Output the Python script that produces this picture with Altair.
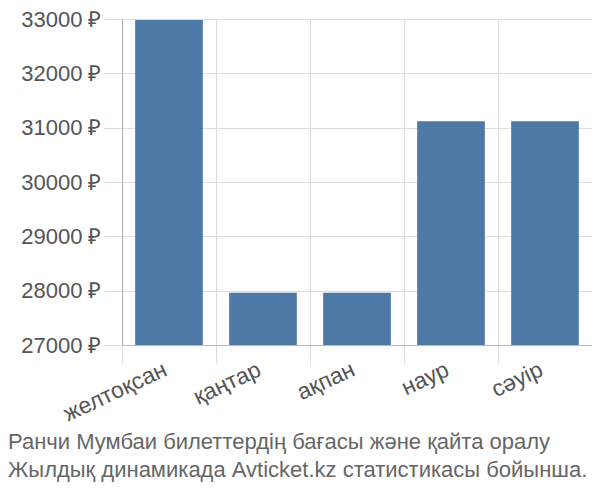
import altair as alt
import pandas as pd

months = ["желтоқсан", "қаңтар", "ақпан", "наур", "сәуір"]
prices = [32980, 27960, 27960, 31120, 31120]
y_ticks = [27000, 28000, 29000, 30000, 31000, 32000, 33000]
title_lines = [
    "Ранчи Мумбаи билеттердің бағасы және қайта оралу",
    "Жылдық динамикада Avticket.kz статистикасы бойынша.",
]

df = pd.DataFrame({"month": months, "price": prices})

chart = (
    alt.Chart(df)
    .mark_bar(color="#4e79a7", clip=True)
    .encode(
        x=alt.X(
            "month:N",
            sort=months,
            title=None,
            scale=alt.Scale(paddingInner=0.28, paddingOuter=0.14),
            axis=alt.Axis(
                labelAngle=-25,
                labelFontSize=23,
                labelColor="#555",
                labelFont="Liberation Sans",
                bandPosition=-0.19,
                labelOffset=-8,
                grid=True,
                gridColor="#ddd",
                tickSize=18,
                tickColor="#ddd",
                domainColor="#bbb",
                labelPadding=-5,
            ),
        ),
        y=alt.Y(
            "price:Q",
            title=None,
            scale=alt.Scale(domain=[27000, 33000], nice=False, zero=False),
            axis=alt.Axis(
                values=y_ticks,
                labelExpr="datum.value + ' ₽'",
                labelFontSize=22,
                labelColor="#555",
                labelFont="Liberation Sans",
                gridColor="#ddd",
                tickSize=18,
                tickColor="#ddd",
                domainColor="#aaa",
                labelPadding=3,
            ),
        ),
    )
    .properties(
        width=470,
        height=326,
        padding={"left": 114, "top": 11, "right": 0, "bottom": 147},
        autosize=alt.AutoSizeParams(type="none"),
        title=alt.TitleParams(
            text=title_lines,
            orient="bottom",
            anchor="start",
            fontSize=22,
            fontWeight="normal",
            color="#666",
            font="Liberation Sans",
            frame="group",
            dx=-114,
            offset=6,
            lineHeight=28,
        ),
    )
    .configure_view(stroke="#ddd")
)

chart.save("out.html", embed_options={"renderer": "svg", "actions": False})
